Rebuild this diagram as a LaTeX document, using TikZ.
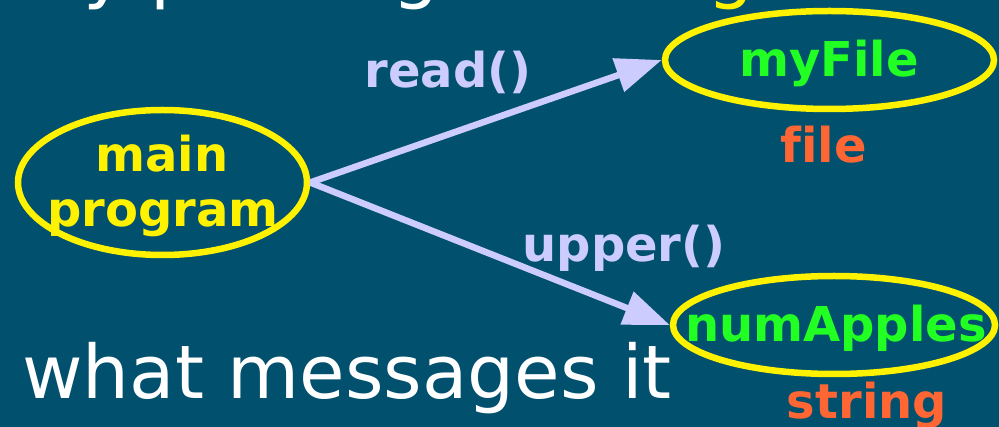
\documentclass[tikz,border=0pt]{standalone}
\usepackage{fontspec}
\setmainfont{DejaVu Sans}[Ligatures=CommonOff]
\usetikzlibrary{arrows.meta,shapes.geometric}
\definecolor{bgblue}{HTML}{01506D}
\definecolor{msgcol}{HTML}{CCCCFF}
\definecolor{objgreen}{HTML}{22FF22}
\definecolor{typecol}{HTML}{FF6633}
\tikzset{
  obj/.style={ellipse, draw=yellow, line width=6.5pt, inner sep=0pt},
  objname/.style={anchor=base, inner sep=0pt, font=\fontsize{48}{55}\selectfont\bfseries},
  msg/.style={draw=msgcol, line width=6.5pt, -{Triangle[length=46pt,width=34pt]}},
  big/.style={anchor=base west, inner sep=0pt, font=\fontsize{74}{80}\selectfont}
}
\begin{document}
\begin{tikzpicture}[x=1pt,y=-1pt]
\coordinate (M) at (162.5,182.5);
\coordinate (F) at (829.5,60);
\coordinate (N) at (834,325);

\useasboundingbox (0,0) rectangle (999,427);
\clip (0,0) rectangle (999,427);
\fill[bgblue] (0,0) rectangle (999,427);

% the line above, mostly outside the frame
\node[big, white] (topa) at (83,-5) {y p};
\node[big, white] (topb) at (392,-5) {g};
\node[big, yellow] (topc) at (707,-5) {g};

\node[obj, minimum width=289pt, minimum height=145pt] (main) at (M) {};
\node[obj, minimum width=329pt, minimum height=98pt] (myfile) at (F) {};
\node[obj, minimum width=322pt, minimum height=98pt] (numapples) at (N) {};

\node[objname, yellow] (mainl) at (162,172) {main};
\node[objname, yellow] (progl) at (163,227) {program};
\node[objname, objgreen] (filel) at (829,77) {myFile};
\node[objname, objgreen] (numl) at (836,342) {numApples};
\node[objname, typecol] (filet) at (823.5,163) {file};
\node[objname, typecol] (strt) at (867,419) {string};

\draw[msg] (main.east) -- (myfile.west);
\draw[msg] (main.east) -- (numapples.west);
\node[objname, msgcol] (readl) at (448,88) {read()};
\node[objname, msgcol] (upperl) at (624,262) {upper()};

\node[big, white] (what) at (22,399) {what messages it};
\end{tikzpicture}
\end{document}
